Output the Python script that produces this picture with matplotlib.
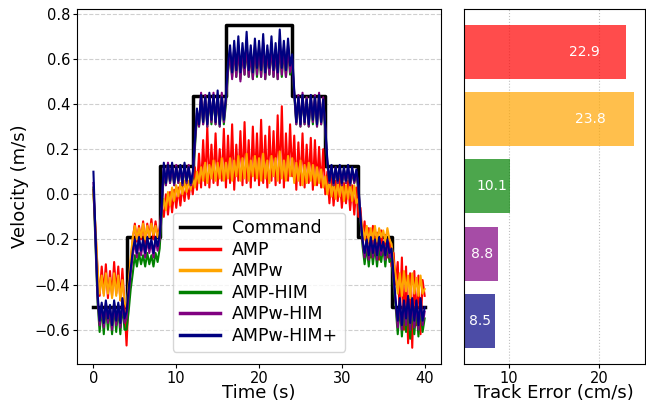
import numpy as np
import matplotlib
matplotlib.use("Agg")
import matplotlib.pyplot as plt

# ---------- data ----------

t = np.arange(161) * 0.25          # 0 .. 40 s

cmd_t   = [0, 4, 8, 12, 16, 24, 28, 32, 36, 40]
cmd_val = [-0.5, -0.1875, 0.125, 0.4375, 0.75, 0.4375, 0.125, -0.1875, -0.5, -0.5]

amp = [0.02, -0.16, -0.34, -0.45, -0.32, -0.44, -0.31, -0.46, -0.34, -0.45, -0.30, -0.44, -0.32, -0.47, -0.33, -0.49,
       -0.67, -0.45, -0.30, -0.20, -0.13, -0.21, -0.14, -0.20, -0.12, -0.22, -0.13, -0.19, -0.11, -0.20, -0.12, -0.19,
       -0.15, -0.06, -0.10, 0.00, -0.09, 0.01, -0.08, 0.02, -0.06, 0.03, -0.05, 0.04, -0.03, 0.05, -0.02, 0.06,
       0.00, 0.12, 0.02, 0.18, 0.03, 0.24, 0.04, 0.30, 0.03, 0.22, 0.05, 0.27, 0.04, 0.20, 0.06, 0.29,
       0.03, 0.26, 0.05, 0.31, 0.02, 0.22, 0.06, 0.28, 0.04, 0.32, 0.05, 0.24, 0.03, 0.30, 0.06, 0.27,
       0.04, 0.33, 0.05, 0.26, 0.03, 0.30, 0.06, 0.28, 0.04, 0.35, 0.05, 0.39, 0.03, 0.27, 0.06, 0.31,
       0.08, 0.26, 0.02, 0.23, 0.04, 0.27, 0.03, 0.22, 0.05, 0.25, 0.02, 0.24, 0.04, 0.21, 0.03, 0.20,
       0.00, 0.10, -0.04, 0.08, -0.05, 0.06, -0.03, 0.07, -0.06, 0.05, -0.04, 0.06, -0.07, 0.04, -0.09, 0.03,
       -0.10, -0.06, -0.20, -0.12, -0.26, -0.15, -0.28, -0.14, -0.25, -0.17, -0.29, -0.16, -0.26, -0.18, -0.28, -0.20,
       -0.32, -0.26, -0.40, -0.30, -0.55, -0.28, -0.60, -0.32, -0.66, -0.35, -0.68, -0.34, -0.58, -0.36, -0.62, -0.38,
       -0.45]

ampw = [0.00, -0.15, -0.33, -0.44, -0.36, -0.45, -0.35, -0.44, -0.37, -0.46, -0.35, -0.45, -0.36, -0.47, -0.38, -0.48,
        -0.50, -0.40, -0.28, -0.19, -0.14, -0.20, -0.15, -0.19, -0.13, -0.20, -0.14, -0.19, -0.13, -0.18, -0.14, -0.19,
        -0.16, -0.08, -0.02, -0.07, 0.01, -0.05, 0.03, -0.03, 0.04, -0.01, 0.05, 0.00, 0.06, 0.01, 0.06, 0.02,
        0.08, 0.03, 0.10, 0.05, 0.12, 0.06, 0.14, 0.05, 0.13, 0.07, 0.15, 0.06, 0.14, 0.07, 0.16, 0.06,
        0.14, 0.07, 0.16, 0.06, 0.15, 0.08, 0.17, 0.06, 0.16, 0.07, 0.18, 0.06, 0.15, 0.08, 0.17, 0.07,
        0.16, 0.06, 0.18, 0.07, 0.15, 0.05, 0.17, 0.08, 0.16, 0.06, 0.19, 0.07, 0.15, 0.06, 0.17, 0.08,
        0.16, 0.05, 0.14, 0.06, 0.15, 0.04, 0.13, 0.05, 0.14, 0.06, 0.13, 0.04, 0.12, 0.05, 0.11, 0.03,
        0.08, 0.00, 0.07, -0.01, 0.06, -0.02, 0.05, -0.01, 0.06, -0.03, 0.04, -0.02, 0.05, -0.03, 0.04, -0.04,
        -0.02, -0.10, -0.15, -0.20, -0.14, -0.21, -0.15, -0.20, -0.14, -0.21, -0.15, -0.19, -0.16, -0.21, -0.15, -0.20,
        -0.22, -0.30, -0.36, -0.44, -0.35, -0.45, -0.34, -0.43, -0.36, -0.46, -0.35, -0.44, -0.37, -0.45, -0.36, -0.44,
        -0.42]

amp_him = [0.03, -0.22, -0.48, -0.61, -0.50, -0.62, -0.49, -0.60, -0.51, -0.62, -0.49, -0.61, -0.50, -0.62, -0.48, -0.60,
           -0.60, -0.52, -0.42, -0.35, -0.27, -0.32, -0.26, -0.31, -0.27, -0.32, -0.26, -0.31, -0.27, -0.32, -0.26, -0.30,
           -0.24, -0.08, 0.10, 0.04, 0.13, 0.05, 0.12, 0.04, 0.12, 0.05, 0.12, 0.04, 0.12, 0.05, 0.12, 0.04,
           0.07, 0.20, 0.35, 0.30, 0.43, 0.31, 0.43, 0.30, 0.43, 0.31, 0.44, 0.31, 0.43, 0.30, 0.44, 0.31,
           0.40, 0.54, 0.62, 0.52, 0.64, 0.52, 0.65, 0.51, 0.63, 0.53, 0.65, 0.52, 0.62, 0.51, 0.65, 0.52,
           0.64, 0.52, 0.66, 0.51, 0.63, 0.53, 0.65, 0.52, 0.63, 0.51, 0.66, 0.52, 0.64, 0.52, 0.65, 0.53,
           0.58, 0.44, 0.31, 0.43, 0.30, 0.44, 0.31, 0.43, 0.30, 0.43, 0.31, 0.43, 0.30, 0.44, 0.31, 0.42,
           0.28, 0.13, 0.05, 0.12, 0.04, 0.11, 0.05, 0.11, 0.04, 0.11, 0.05, 0.11, 0.04, 0.10, 0.05, 0.10,
           0.02, -0.12, -0.23, -0.31, -0.23, -0.32, -0.22, -0.31, -0.23, -0.32, -0.22, -0.30, -0.23, -0.32, -0.22, -0.30,
           -0.28, -0.40, -0.50, -0.62, -0.49, -0.63, -0.50, -0.61, -0.48, -0.64, -0.49, -0.62, -0.50, -0.63, -0.49, -0.61,
           -0.55]

ampw_him = [0.05, -0.20, -0.46, -0.58, -0.49, -0.59, -0.48, -0.57, -0.50, -0.60, -0.48, -0.58, -0.49, -0.59, -0.47, -0.57,
            -0.55, -0.45, -0.35, -0.27, -0.21, -0.28, -0.20, -0.27, -0.21, -0.28, -0.20, -0.26, -0.21, -0.28, -0.20, -0.25,
            -0.20, -0.06, 0.12, 0.04, 0.14, 0.05, 0.13, 0.04, 0.13, 0.05, 0.12, 0.04, 0.13, 0.05, 0.13, 0.04,
            0.08, 0.22, 0.36, 0.30, 0.45, 0.31, 0.44, 0.30, 0.44, 0.32, 0.45, 0.31, 0.44, 0.30, 0.45, 0.32,
            0.42, 0.55, 0.63, 0.51, 0.65, 0.52, 0.66, 0.50, 0.64, 0.53, 0.67, 0.52, 0.63, 0.51, 0.66, 0.53,
            0.65, 0.52, 0.67, 0.51, 0.64, 0.53, 0.66, 0.52, 0.64, 0.51, 0.68, 0.53, 0.65, 0.52, 0.66, 0.54,
            0.60, 0.45, 0.31, 0.44, 0.30, 0.45, 0.31, 0.43, 0.30, 0.44, 0.32, 0.44, 0.30, 0.45, 0.31, 0.43,
            0.29, 0.14, 0.05, 0.12, 0.04, 0.12, 0.05, 0.12, 0.04, 0.11, 0.05, 0.12, 0.04, 0.11, 0.05, 0.10,
            0.03, -0.11, -0.21, -0.28, -0.21, -0.29, -0.20, -0.28, -0.21, -0.29, -0.20, -0.27, -0.22, -0.29, -0.21, -0.28,
            -0.26, -0.38, -0.48, -0.59, -0.47, -0.60, -0.48, -0.58, -0.46, -0.60, -0.47, -0.59, -0.48, -0.60, -0.47, -0.58,
            -0.52]

ampw_him_plus = [0.10, -0.18, -0.44, -0.56, -0.48, -0.57, -0.47, -0.55, -0.49, -0.58, -0.47, -0.56, -0.48, -0.57, -0.46, -0.55,
                 -0.52, -0.42, -0.33, -0.25, -0.20, -0.26, -0.19, -0.25, -0.20, -0.26, -0.19, -0.24, -0.20, -0.26, -0.19, -0.23,
                 -0.18, -0.04, 0.14, 0.05, 0.13, 0.06, 0.14, 0.05, 0.12, 0.06, 0.13, 0.05, 0.14, 0.06, 0.12, 0.05,
                 0.10, 0.24, 0.38, 0.31, 0.44, 0.32, 0.43, 0.31, 0.45, 0.33, 0.44, 0.32, 0.46, 0.31, 0.43, 0.33,
                 0.44, 0.58, 0.66, 0.54, 0.68, 0.55, 0.70, 0.54, 0.67, 0.56, 0.72, 0.55, 0.66, 0.54, 0.69, 0.56,
                 0.68, 0.55, 0.71, 0.54, 0.66, 0.56, 0.70, 0.55, 0.67, 0.54, 0.73, 0.56, 0.68, 0.55, 0.69, 0.57,
                 0.62, 0.46, 0.32, 0.43, 0.31, 0.44, 0.32, 0.42, 0.31, 0.44, 0.33, 0.43, 0.31, 0.44, 0.32, 0.42,
                 0.30, 0.15, 0.06, 0.13, 0.05, 0.12, 0.06, 0.13, 0.05, 0.12, 0.06, 0.13, 0.05, 0.12, 0.06, 0.11,
                 0.04, -0.10, -0.20, -0.26, -0.20, -0.27, -0.19, -0.26, -0.20, -0.27, -0.19, -0.25, -0.21, -0.27, -0.20, -0.26,
                 -0.24, -0.36, -0.47, -0.56, -0.46, -0.58, -0.47, -0.55, -0.45, -0.57, -0.46, -0.56, -0.47, -0.58, -0.46, -0.56,
                 -0.50]

methods = ["AMP", "AMPw", "AMP-HIM", "AMPw-HIM", "AMPw-HIM+"]
colors  = ["red", "orange", "green", "purple", "navy"]
track_err = [22.9, 23.8, 10.1, 8.8, 8.5]   # cm/s

# ---------- figure ----------

fig = plt.figure(figsize=(6.46, 4.03), dpi=100)
ax = fig.add_axes([0.119, 0.097, 0.564, 0.881])
ax2 = fig.add_axes([0.718, 0.097, 0.280, 0.881])

ax.plot(cmd_t, cmd_val, drawstyle="steps-post", color="black", lw=2.5, label="Command")
for y, c, m in zip([amp, ampw, amp_him, ampw_him, ampw_him_plus], colors, methods):
    ax.plot(t, y, color=c, lw=1.5, label=m)
ax.set_xlabel("Time (s)", fontsize=13, labelpad=-1)
ax.set_ylabel("Velocity (m/s)", fontsize=13)
ax.tick_params(labelsize=10.5, length=3, pad=2)
ax.grid(axis="y", ls="--", alpha=0.6)
leg = ax.legend(loc="lower center", fontsize=12.5, labelspacing=0.2, handlelength=2.3,
                handletextpad=0.7, borderaxespad=0.7)
for h in leg.get_lines():
    h.set_linewidth(2.5)

pos = np.arange(len(methods))[::-1]
ax2.barh(pos, track_err, height=0.8, color=colors, alpha=0.7)
for p, v in zip(pos, track_err):
    ax2.text(v * 0.8, p, f"{v:.1f}", color="white", ha="center", va="center", fontsize=10)
ax2.set_xlim(5, 25)
ax2.set_xticks([10, 20])
ax2.set_yticks([])
ax2.set_xlabel("Track Error (cm/s)", fontsize=13, labelpad=-1)
ax2.tick_params(labelsize=10.5, length=3, pad=2)
ax2.grid(axis="x", ls=":", alpha=0.8)
ax2.set_axisbelow(True)

fig.savefig("out.png", dpi=100)
